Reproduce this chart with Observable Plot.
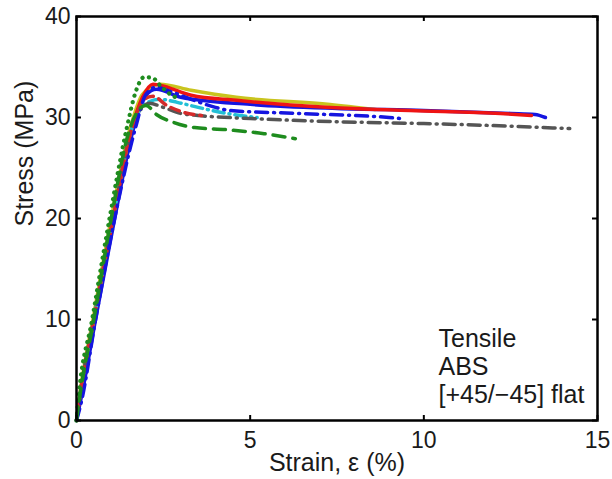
<!DOCTYPE html>
<html>
<head>
<meta charset="utf-8">
<script src="https://cdn.jsdelivr.net/npm/d3@7"></script>
<script src="https://cdn.jsdelivr.net/npm/@observablehq/plot@0.6"></script>
<style>
  body { margin: 0; background: #fff; }
</style>
</head>
<body>
<div id="chart"></div>
<script>
// ---- Tick labels ----
const xTicks = [0, 5, 10, 15];
const yTicks = [0, 10, 20, 30, 40];

// ---- Series (strain %, stress MPa) ----
const strainYellow = [0, 0.1, 0.5, 1.0, 1.55, 1.9, 2.4, 3.3, 4.6, 7.3, 8.6];
const stressYellow = [0, 2.7, 10.5, 20, 29, 32.3, 33.3, 32.7, 32.0, 31.3, 30.8];

const strainBlue = [0, 0.15, 0.55, 1.1, 1.65, 2.0, 2.3, 3.0, 5.0, 7.5, 10, 12.5, 13.2, 13.5];
const stressBlue = [0, 2.5, 10, 20, 29, 32.2, 32.8, 32.0, 31.3, 30.9, 30.7, 30.4, 30.3, 30.0];

const strainRed = [0, 0.1, 0.5, 1.05, 1.6, 1.9, 2.2, 2.4, 3.3, 4.6, 7.3, 9.6, 12.2, 13.1];
const stressRed = [0, 2.5, 10, 20, 29, 32, 33.3, 33.2, 32.2, 31.7, 31.0, 30.7, 30.4, 30.2];

const strainCyan = [0, 0.1, 0.5, 1.05, 1.6, 1.95, 2.4, 2.9, 3.5, 4.5, 5.2];
const stressCyan = [0, 2.5, 10, 20, 29, 31.3, 31.8, 31.5, 31.0, 30.3, 30.0];

const strainGray = [0, 0.1, 0.5, 1.05, 1.6, 1.9, 2.1, 2.5, 3.0, 3.5, 5.0, 7.3, 10, 12, 14.2];
const stressGray = [0, 2.5, 10, 20, 29, 31, 31.4, 31.0, 30.4, 30.2, 29.9, 29.6, 29.4, 29.2, 28.9];

const strainDarkRed = [0, 0.1, 0.5, 1.05, 1.6, 1.95, 2.2, 2.6, 3.0, 3.6];
const stressDarkRed = [0, 2.5, 10, 20, 29, 31.8, 32.1, 31.2, 30.6, 30.2];

const strainBlueDD = [0, 0.15, 0.55, 1.1, 1.7, 2.0, 2.3, 2.6, 3.3, 4.0, 4.4, 6.4, 9.0, 9.33];
const stressBlueDD = [0, 2, 10, 20, 29, 32.3, 33.0, 32.7, 31.8, 31.0, 30.7, 30.4, 30.0, 29.9];

const strainGreenDash = [0, 0.1, 0.5, 1.0, 1.5, 1.8, 2.0, 2.3, 2.8, 3.4, 4.3, 5.4, 6.3];
const stressGreenDash = [0, 2.5, 10, 20, 28.5, 30.8, 31.2, 30.3, 29.5, 29.0, 28.8, 28.4, 27.9];

const strainGreenDot = [0, 0.05, 0.45, 0.95, 1.45, 1.7, 1.95, 2.2, 2.4, 2.7, 3.0];
const stressGreenDot = [0, 2, 10, 20, 29, 32.5, 34.0, 33.9, 33.2, 32.3, 31.8];

// ---- Texts ----
const xTitle = ["Strain, ε (%)"];
const yTitle = ["Stress (MPa)"];
const annotation = ["Tensile\nABS\n[+45/\u221245] flat"];

// ---- Series styling table (built from the arrays above) ----
const series = [
  {strain: strainYellow, stress: stressYellow, color: "#c9c41e", dash: null, w: 3.5},
  {strain: strainBlue, stress: stressBlue, color: "#1515e0", dash: null, w: 3.5},
  {strain: strainRed, stress: stressRed, color: "#ee1414", dash: null, w: 3.5},
  {strain: strainCyan, stress: stressCyan, color: "#22bfd6", dash: "11,5,1,5", w: 3.5},
  {strain: strainGray, stress: stressGray, color: "#555555", dash: "12,6,1,6", w: 3.5},
  {strain: strainDarkRed, stress: stressDarkRed, color: "#d42a2a", dash: "9,6", w: 3.5},
  {strain: strainBlueDD, stress: stressBlueDD, color: "#1515e0", dash: "12,6,1,6", w: 3.5},
  {strain: strainGreenDash, stress: stressGreenDash, color: "#1e8c1e", dash: "12,8", w: 3.5},
  {strain: strainGreenDot, stress: stressGreenDot, color: "#1e8c1e", dash: "0.1,6.5", w: 4.2}
];

const lineMarks = series.map(s =>
  Plot.line(s.strain.map((x, i) => ({x, y: s.stress[i]})), {
    x: "x", y: "y",
    stroke: s.color,
    strokeWidth: s.w,
    strokeDasharray: s.dash,
    strokeLinecap: "round",
    strokeLinejoin: "round",
    curve: "monotone-x"
  })
);

const chart = Plot.plot({
  width: 612,
  height: 479,
  marginLeft: 76,
  marginRight: 15,
  marginTop: 16,
  marginBottom: 59,
  x: {domain: [0, 15]},
  y: {domain: [0, 40]},
  style: {
    fontFamily: "'Liberation Sans', Arial, Helvetica, sans-serif",
    fontSize: "23px",
    color: "#1a1a1a",
    background: "#fff",
    overflow: "visible"
  },
  marks: [
    ...lineMarks,
    Plot.axisX(xTicks, {anchor: "bottom", tickSize: 0, tickPadding: 11, fontSize: 23, label: null}),
    Plot.axisY(yTicks, {anchor: "left", tickSize: 0, tickPadding: 6, fontSize: 23, label: null}),
    Plot.ruleX(xTicks, {x: d => d, insetTop: 399, stroke: "black", strokeWidth: 2}),
    Plot.ruleX(xTicks, {x: d => d, insetBottom: 399, stroke: "black", strokeWidth: 2}),
    Plot.ruleY(yTicks, {y: d => d, insetRight: 516, stroke: "black", strokeWidth: 2}),
    Plot.ruleY(yTicks, {y: d => d, insetLeft: 516, stroke: "black", strokeWidth: 2}),
    Plot.frame({stroke: "black", strokeWidth: 2.5}),
    Plot.text(xTitle, {text: d => d, frameAnchor: "bottom", dy: 42, fontSize: 25, lineAnchor: "middle", fill: "#1a1a1a"}),
    Plot.text(yTitle, {text: d => d, frameAnchor: "left", dx: -52, dy: 8, rotate: -90, fontSize: 25, lineAnchor: "middle", fill: "#1a1a1a"}),
    Plot.text(annotation, {text: d => d, frameAnchor: "bottom-right", dx: -159, dy: -18, textAnchor: "start", lineAnchor: "bottom", lineHeight: 1.12, fontSize: 25, fill: "#1a1a1a"})
  ]
});

document.getElementById("chart").appendChild(chart);
</script>
</body>
</html>
